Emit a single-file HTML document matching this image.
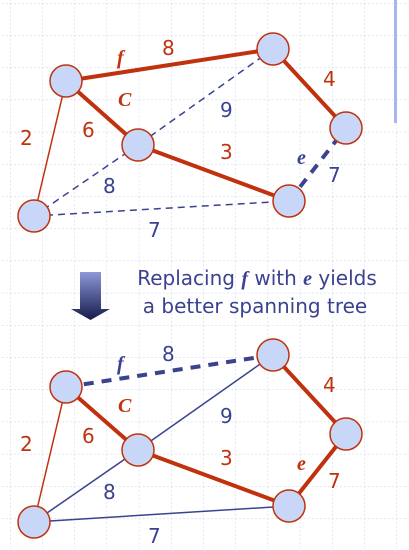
<!DOCTYPE html>
<html><head><style>
html,body{margin:0;padding:0;background:#fff;}
svg{display:block;}
text{font-family:"DejaVu Sans","Liberation Sans",sans-serif;font-size:20px;}
.r{fill:#c0320e}.b{fill:#3b4290}
.it{font-family:"Liberation Serif",serif;font-style:italic;font-weight:bold;}
</style></head><body>
<svg width="409" height="550" viewBox="0 0 409 550" xmlns="http://www.w3.org/2000/svg">
<defs>
<pattern id="g" x="10" y="3" width="32.2" height="32.2" patternUnits="userSpaceOnUse">
<path d="M0 0V32.2M0 0H32.2" stroke="#c8d0ea" stroke-width="1" stroke-dasharray="2,2" fill="none"/>
</pattern>
<linearGradient id="ag" x1="0" y1="0" x2="0" y2="1"><stop offset="0" stop-color="#8e98d8"/><stop offset="1" stop-color="#141a4a"/></linearGradient>
</defs>
<rect width="409" height="550" fill="url(#g)"/>
<rect x="394" y="0" width="3" height="123" fill="#a8b6f0"/>

<g fill="none">
<line x1="273" y1="49" x2="138" y2="145" stroke="#3b4290" stroke-width="1.5" stroke-dasharray="7,5"/>
<line x1="138" y1="145" x2="34" y2="216" stroke="#3b4290" stroke-width="1.5" stroke-dasharray="7,5"/>
<line x1="34" y1="216" x2="289" y2="201" stroke="#3b4290" stroke-width="1.5" stroke-dasharray="7,5"/>
<line x1="289" y1="201" x2="346" y2="128" stroke="#3b4290" stroke-width="4" stroke-dasharray="10,8"/>
<line x1="66" y1="81" x2="34" y2="216" stroke="#c0320e" stroke-width="1.5"/>
<line x1="66" y1="81" x2="273" y2="49" stroke="#c0320e" stroke-width="4"/>
<line x1="66" y1="81" x2="138" y2="145" stroke="#c0320e" stroke-width="4"/>
<line x1="138" y1="145" x2="289" y2="201" stroke="#c0320e" stroke-width="4"/>
<line x1="273" y1="49" x2="346" y2="128" stroke="#c0320e" stroke-width="4"/>
</g>
<g fill="#c8d6f8" stroke="#c0320e" stroke-width="1.5">
<circle cx="66" cy="81" r="16"/><circle cx="273" cy="49" r="16"/><circle cx="138" cy="145" r="16"/>
<circle cx="346" cy="128" r="16"/><circle cx="289" cy="201" r="16"/><circle cx="34" cy="216" r="16"/>
</g>
<text x="117" y="64" class="r it">f</text>
<text x="162" y="55" class="r">8</text>
<text x="118" y="106" class="r it" font-size="22">C</text>
<text x="82" y="137" class="r">6</text>
<text x="20" y="145" class="r">2</text>
<text x="220" y="117" class="b">9</text>
<text x="220" y="159" class="r">3</text>
<text x="323" y="86" class="r">4</text>
<text x="297" y="164" class="b it">e</text>
<text x="328" y="182" class="b">7</text>
<text x="103" y="193" class="b">8</text>
<text x="148" y="237" class="b">7</text>

<path d="M80 272H101V309H110L90.5 320L71 309H80Z" fill="url(#ag)"/>
<text x="257" y="285" text-anchor="middle" class="b" font-size="20.5">Replacing <tspan class="it">f</tspan> with <tspan class="it">e</tspan> yields</text>
<text x="255" y="313" text-anchor="middle" class="b" font-size="20.5">a better spanning tree</text>

<g fill="none">
<line x1="273" y1="355" x2="138" y2="450" stroke="#3b4290" stroke-width="1.5"/>
<line x1="138" y1="450" x2="34" y2="522" stroke="#3b4290" stroke-width="1.5"/>
<line x1="34" y1="522" x2="289" y2="506" stroke="#3b4290" stroke-width="1.5"/>
<line x1="66" y1="387" x2="273" y2="355" stroke="#3b4290" stroke-width="4" stroke-dasharray="10,8"/>
<line x1="289" y1="506" x2="346" y2="434" stroke="#c0320e" stroke-width="4"/>
<line x1="66" y1="387" x2="34" y2="522" stroke="#c0320e" stroke-width="1.5"/>
<line x1="66" y1="387" x2="138" y2="450" stroke="#c0320e" stroke-width="4"/>
<line x1="138" y1="450" x2="289" y2="506" stroke="#c0320e" stroke-width="4"/>
<line x1="273" y1="355" x2="346" y2="434" stroke="#c0320e" stroke-width="4"/>
</g>
<g fill="#c8d6f8" stroke="#c0320e" stroke-width="1.5">
<circle cx="66" cy="387" r="16"/><circle cx="273" cy="355" r="16"/><circle cx="138" cy="450" r="16"/>
<circle cx="346" cy="434" r="16"/><circle cx="289" cy="506" r="16"/><circle cx="34" cy="522" r="16"/>
</g>
<text x="117" y="370" class="b it">f</text>
<text x="162" y="361" class="b">8</text>
<text x="118" y="412" class="r it" font-size="22">C</text>
<text x="82" y="443" class="r">6</text>
<text x="20" y="451" class="r">2</text>
<text x="220" y="423" class="b">9</text>
<text x="220" y="465" class="r">3</text>
<text x="323" y="392" class="r">4</text>
<text x="297" y="470" class="r it">e</text>
<text x="328" y="488" class="r">7</text>
<text x="103" y="499" class="b">8</text>
<text x="148" y="543" class="b">7</text>
</svg>
</body></html>
